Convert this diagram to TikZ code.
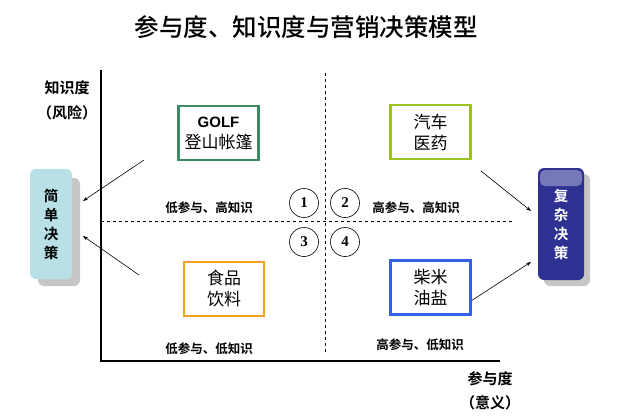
\documentclass[tikz,border=0pt]{standalone}
\usepackage{fontspec}
\setmainfont{Liberation Serif}
\setsansfont{Liberation Sans}
\newfontfamily\cjk{Noto Sans CJK SC}
\newfontfamily\cjkm{Noto Sans CJK SC Medium}
\newfontfamily\cjkb{Noto Sans CJK SC Bold}
\usetikzlibrary{arrows.meta}
\definecolor{golfgreen}{HTML}{3A8C62}
\definecolor{carlime}{HTML}{9CC21E}
\definecolor{foodorange}{HTML}{F0A21E}
\definecolor{riceblue}{HTML}{3262E6}
\definecolor{simplebg}{HTML}{B8E0E6}
\definecolor{complexbg}{HTML}{2E3192}
\begin{document}
\begin{tikzpicture}[x=1pt,y=-1pt,
  itembox/.style={draw,line width=2.5pt,fill=white,minimum width=80pt,minimum height=54pt,align=center,font=\cjk\fontsize{17}{21}\selectfont},
  quadlabel/.style={font=\cjkb\fontsize{12.5}{14}\selectfont},
  numcirc/.style={circle,draw,line width=0.6pt,minimum size=29pt,inner sep=0pt,font=\bfseries\fontsize{15}{17}\selectfont},
  axislabel/.style={font=\cjkb\fontsize{15}{17}\selectfont},
  decbox/.style={rounded corners=6pt,minimum width=42pt,minimum height=110pt,align=center,inner sep=0pt},
  arr/.style={-{Stealth[length=5pt,width=3.5pt]},line width=0.6pt}
]
\useasboundingbox (0,0) rectangle (618,417);
% title
\node[font=\cjkm\fontsize{24.5}{28}\selectfont] (title) at (306,27) {参与度、知识度与营销决策模型};
% axes
\coordinate (o) at (101,361);
\coordinate (ytop) at (101,70);
\coordinate (xend) at (500,361);
\draw[line width=1.4pt] (ytop) -- (o) -- (xend);
\coordinate (vt) at (325,73);
\coordinate (vb) at (325,354);
\coordinate (hl) at (101,221);
\coordinate (hr) at (512,221);
\draw[dashed,line width=0.6pt] (vt) -- (vb);
\draw[dashed,line width=0.6pt] (hl) -- (hr);
% axis labels
\node[axislabel] (yl1) at (67,88) {知识度};
\node[axislabel] (yl2) at (67,113) {（风险）};
\node[axislabel] (xl1) at (490,379) {参与度};
\node[axislabel] (xl2) at (490,403) {（意义）};
% item boxes
\node[itembox,draw=golfgreen] (golf) at (218.5,133) {\sffamily\bfseries\fontsize{15}{21}\selectfont GOLF\\登山帐篷};
\node[itembox,draw=carlime] (car) at (430.5,132) {汽车\\医药};
\node[itembox,draw=foodorange] (food) at (224,289) {食品\\饮料};
\node[itembox,draw=riceblue] (rice) at (430.5,287.5) {柴米\\油盐};
% circles
\node[numcirc] (c1) at (304,203) {1};
\node[numcirc] (c2) at (345,203) {2};
\node[numcirc] (c3) at (304,242) {3};
\node[numcirc] (c4) at (345,242) {4};
% quadrant labels
\node[quadlabel] (q1) at (209,208) {低参与、高知识};
\node[quadlabel] (q2) at (416,208) {高参与、高知识};
\node[quadlabel] (q3) at (209,349) {低参与、低知识};
\node[quadlabel] (q4) at (420,345) {高参与、低知识};
% decision boxes
\fill[gray!45,rounded corners=6pt] (38,178) rectangle (80,286);
\node[decbox,fill=simplebg,font=\cjkb\fontsize{14.5}{19}\selectfont] (simple) at (51,224) {简\\单\\决\\策};
\fill[gray!45,rounded corners=6pt] (544,174) rectangle (590,286);
\node[decbox,fill=complexbg,text=white,minimum width=46pt,minimum height=112pt,font=\cjkb\fontsize{14.5}{19}\selectfont] (complex) at (561,224) {复\\杂\\决\\策};
\fill[white,opacity=0.35,rounded corners=5pt] (540,170) rectangle (582,186);
% arrows
\coordinate (a1s) at (144,160);
\coordinate (a1e) at (83,201);
\coordinate (a2s) at (139,275);
\coordinate (a2e) at (83,236);
\coordinate (a3s) at (481,171);
\coordinate (a3e) at (531,211);
\coordinate (a4e) at (531,262);
\draw[arr] (a1s) -- (a1e);
\draw[arr] (a2s) -- (a2e);
\draw[arr] (a3s) -- (a3e);
\draw[arr] (rice.east) ++(0,13) -- (a4e);
\end{tikzpicture}
\end{document}
